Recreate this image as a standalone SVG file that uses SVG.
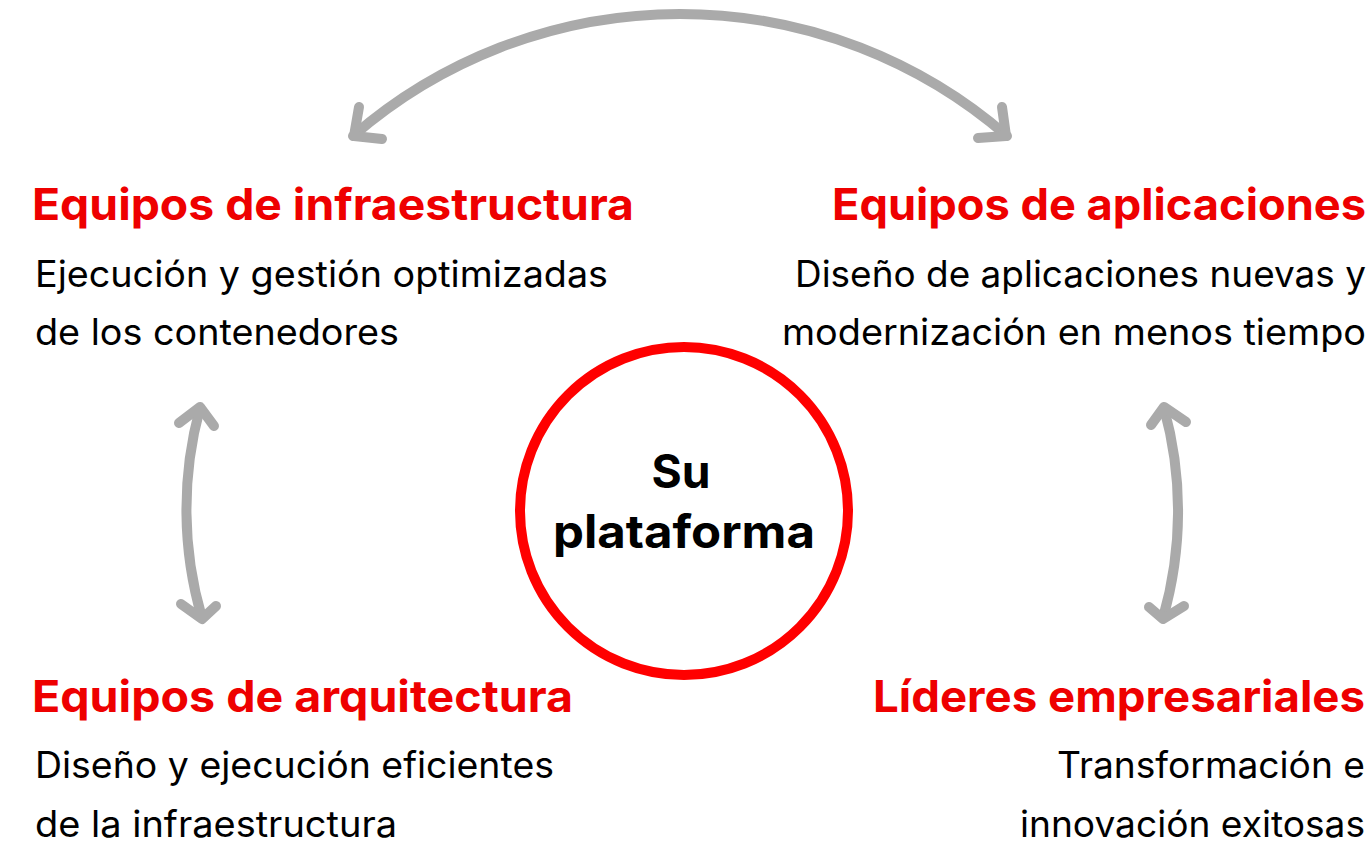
<svg xmlns="http://www.w3.org/2000/svg" width="1372" height="848" viewBox="0 0 1372 848">
<style>
.title{font-family:Inter,"Noto Sans","Liberation Sans",sans-serif;font-weight:700;font-size:44px;fill:#ee0000}
.body{font-family:Inter,"Noto Sans","Liberation Sans",sans-serif;font-weight:400;font-size:36.5px;fill:#000}
.center{font-family:Inter,"Noto Sans","Liberation Sans",sans-serif;font-weight:700;font-size:46px;fill:#000;text-anchor:middle}
.end{text-anchor:end}
.conn{fill:none;stroke:#aaaaaa;stroke-width:10;stroke-linecap:round;stroke-linejoin:round}
</style>
<rect width="1372" height="848" fill="#fff"/>
<g id="connectors">
  <path class="conn" d="M353,136 A499,499 0 0 1 1007,136"/>
  <polyline class="conn" points="359,107 354,136 382,139"/>
  <polyline class="conn" points="1002,107 1006,136 978,138"/>
  <path class="conn" d="M200,408 A386,386 0 0 0 202,618"/>
  <polyline class="conn" points="179,423 200,407 214,426"/>
  <polyline class="conn" points="181,604 202,619 216,606"/>
  <path class="conn" d="M1164,408 A386,386 0 0 1 1163,618"/>
  <polyline class="conn" points="1151,425 1164,407 1186,422"/>
  <polyline class="conn" points="1149,607 1163,619 1184,606"/>
</g>
<g id="platform">
  <circle cx="684" cy="511" r="164" fill="#fff" stroke="#ff0000" stroke-width="10"/>
  <text class="center" x="681" y="488" textLength="59" lengthAdjust="spacingAndGlyphs">Su</text>
  <text class="center" x="684" y="548" textLength="262" lengthAdjust="spacingAndGlyphs">plataforma</text>
</g>
<g id="infra">
  <text class="title" x="32" y="220" textLength="602" lengthAdjust="spacingAndGlyphs">Equipos de infraestructura</text>
  <text class="body" x="35" y="287" textLength="573" lengthAdjust="spacingAndGlyphs">Ejecución y gestión optimizadas</text>
  <text class="body" x="35" y="345" textLength="364" lengthAdjust="spacingAndGlyphs">de los contenedores</text>
</g>
<g id="apps">
  <text class="title end" x="1366" y="220" textLength="534" lengthAdjust="spacingAndGlyphs">Equipos de aplicaciones</text>
  <text class="body end" x="1366" y="287" textLength="571" lengthAdjust="spacingAndGlyphs">Diseño de aplicaciones nuevas y</text>
  <text class="body end" x="1366" y="345" textLength="584" lengthAdjust="spacingAndGlyphs">modernización en menos tiempo</text>
</g>
<g id="arch">
  <text class="title" x="32" y="712" textLength="541" lengthAdjust="spacingAndGlyphs">Equipos de arquitectura</text>
  <text class="body" x="35" y="778" textLength="519" lengthAdjust="spacingAndGlyphs">Diseño y ejecución eficientes</text>
  <text class="body" x="35" y="837" textLength="362" lengthAdjust="spacingAndGlyphs">de la infraestructura</text>
</g>
<g id="leaders">
  <text class="title end" x="1365" y="712" textLength="492" lengthAdjust="spacingAndGlyphs">Líderes empresariales</text>
  <text class="body end" x="1365" y="778" textLength="308" lengthAdjust="spacingAndGlyphs">Transformación e</text>
  <text class="body end" x="1365" y="837" textLength="345" lengthAdjust="spacingAndGlyphs">innovación exitosas</text>
</g>
</svg>
